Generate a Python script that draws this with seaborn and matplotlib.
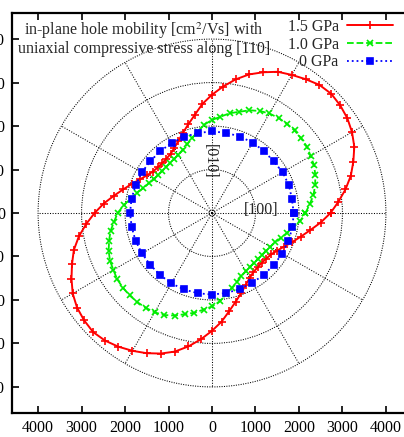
import numpy as np
import pandas as pd
import seaborn as sns
import matplotlib.pyplot as plt
from matplotlib.patches import Circle

# 角度 [deg] と移動度 [cm2/Vs]
ang5 = np.arange(0, 360, 5)
ang10 = np.arange(0, 360, 10)

mu_15 = [2726, 2915, 3117, 3305, 3460, 3611, 3719, 3800, 3850,
         3878, 3845, 3757, 3668, 3583, 3445, 3300, 3120, 2920,
         2720, 2520, 2290, 2110, 1960, 1830, 1730, 1660, 1630,
         1620, 1630, 1660, 1730, 1830, 1960, 2110, 2290, 2500,
         2700, 2905, 3110, 3290, 3426, 3566, 3700, 3790, 3840,
         3870, 3830, 3754, 3660, 3558, 3440, 3300, 3115, 2915,
         2710, 2510, 2290, 2110, 1960, 1830, 1730, 1660, 1630,
         1620, 1630, 1660, 1730, 1830, 1960, 2110, 2290, 2510]

mu_10 = [2150, 2253, 2370, 2455, 2530, 2590, 2620, 2665, 2675,
         2685, 2680, 2668, 2643, 2590, 2514, 2409, 2330, 2222,
         2140, 2040, 1900, 1780, 1680, 1600, 1550, 1515, 1500,
         1495, 1500, 1515, 1550, 1610, 1680, 1790, 1900, 2040,
         2170, 2260, 2370, 2450, 2530, 2590, 2620, 2660, 2675,
         2680, 2675, 2660, 2640, 2590, 2510, 2410, 2330, 2230,
         2150, 2040, 1900, 1780, 1680, 1600, 1550, 1515, 1500,
         1495, 1500, 1515, 1550, 1600, 1680, 1780, 1900, 2040]

mu_00 = [1878, 1867, 1880, 1875, 1850, 1860, 1871, 1871, 1874,
         1875, 1870, 1865, 1860, 1853, 1855, 1865, 1870, 1880,
         1885, 1875, 1870, 1860, 1855, 1860, 1870, 1872, 1875,
         1875, 1870, 1862, 1855, 1853, 1858, 1865, 1872, 1880]

series = [("1.5 GPa", ang5, mu_15, "#ff0000", "-", "+", 6, 1.4),
          ("1.0 GPa", ang5, mu_10, "#00ee00", "--", "x", 5, 1.3),
          ("0 GPa", ang10, mu_00, "#0000ff", ":", "s", 4.5, 1.3)]

sns.set_style("ticks")
plt.rcParams['font.family'] = ['Liberation Serif', 'DejaVu Serif']
plt.rcParams['mathtext.fontset'] = 'stix'

fig = plt.figure(figsize=(4.04, 4.37), dpi=100)
ax = fig.add_axes([12 / 404, 24 / 437, 400 / 404, 400 / 437])

# 極座標グリッド
for r in [1000, 2000, 3000, 4000]:
    ax.add_patch(Circle((0, 0), r, fill=False, ec="black", lw=0.75,
                        ls=(0, (1, 1.3)), zorder=1))
ax.add_patch(Circle((0, 0), 70, fill=False, ec="black", lw=0.6,
                    ls=(0, (1, 1)), zorder=1))
for a in range(0, 360, 30):
    t = np.deg2rad(a)
    ax.plot([0, 4000 * np.cos(t)], [0, 4000 * np.sin(t)], color="black",
            lw=0.75, ls=(0, (1, 1.5)), zorder=1)

for name, ang, mu, col, ls, mk, ms, lw in series:
    th = np.deg2rad(np.append(ang, ang[0]))
    r = np.append(mu, mu[0])
    df = pd.DataFrame({"x": r * np.cos(th), "y": r * np.sin(th)})
    sns.lineplot(data=df, x="x", y="y", sort=False, estimator=None, ax=ax,
                 color=col, linestyle=ls, lw=lw, marker=mk, markersize=ms,
                 mew=1.2, mec=col, label=name, zorder=3)

ax.set_xlim(-4600, 4600)
ax.set_ylim(-4600, 4600)
ticks = np.arange(-4000, 4001, 1000)
ax.set_xticks(ticks)
ax.set_yticks(ticks)
ax.set_xticklabels([str(abs(v)) for v in ticks])
ax.set_yticklabels([str(abs(v)) for v in ticks])
ax.tick_params(direction="in", length=5, width=1.2, top=True, right=True,
               labelsize=11.5, pad=5, colors="black")
ax.set_xlabel("")
ax.set_ylabel("")
for s in ax.spines.values():
    s.set_linewidth(1.6)
    s.set_color("black")

ax.text(1140, 70, "[100]", ha="center", va="center", fontsize=11.5)
ax.text(-40, 1184, "[010]", ha="center", va="center", fontsize=11.5,
        rotation=-90)
ax.text(0.33, 0.936, "in-plane hole mobility [cm$^2$/Vs] with\n"
        "uniaxial compressive stress along [110]", transform=ax.transAxes,
        ha="center", va="center", fontsize=11.5, linespacing=0.95, zorder=0)

ax.legend(loc="upper right", bbox_to_anchor=(0.9525, 0.985), frameon=False,
          markerfirst=False, fontsize=11.5, handlelength=2.9,
          handletextpad=0.5, borderpad=0, borderaxespad=0, labelspacing=0.1,
          numpoints=1)

fig.savefig("out.png", dpi=100)
